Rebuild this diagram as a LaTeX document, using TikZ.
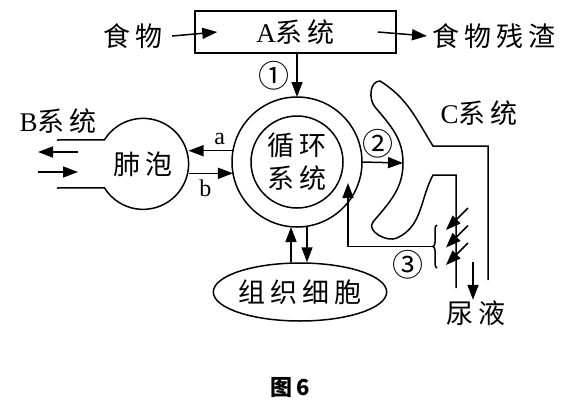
\documentclass[tikz,border=0pt]{standalone}
\usepackage{fontspec}
\setmainfont{Liberation Serif}
\newfontfamily\zh[LetterSpace=18]{Noto Sans CJK SC}
\usetikzlibrary{shapes.geometric, arrows.meta, decorations.pathreplacing}
\tikzset{
    arr/.style={-{Triangle[length=15pt,width=11pt]}},
    lab/.style={inner sep=0pt, font=\fontsize{27}{33}\selectfont},
    num/.style={inner sep=0pt, font=\fontsize{31}{34}\selectfont\zh},
    small/.style={inner sep=0pt, font=\fontsize{24}{28}\selectfont},
    sysbox/.style={draw, rectangle, minimum width=201pt, minimum height=42pt, inner sep=0pt, font=\fontsize{27}{33}\selectfont},
    ring/.style={draw, circle, outer sep=0pt, inner sep=0pt}
}

\begin{document}
\begin{tikzpicture}[x=1pt, y=1pt, line width=1.5pt]
    \useasboundingbox (0,0) rectangle (571,-405);
    \node[sysbox] (sysA) at (295.5,-32) {A\zh 系统};
    \node[lab] (food) at (133,-36) {\zh 食物};
    \node[lab] (waste) at (494,-36) {\zh 食物残渣};
    \draw[arr] ([xshift=9pt]food.east) -- ([xshift=23pt]sysA.west);
    \draw[arr] ([xshift=-19pt]sysA.east) -- ([xshift=-5pt]waste.west);

    \node[ring, minimum size=130pt] (ring) at (297,-162) {};
    \node[ring, minimum size=92pt, lab, align=center] (core) at (297,-162) {\zh 循环\\\zh 系统};
    \draw[arr] (sysA.south -| ring.north) -- node[num, pos=0.5, left=7pt] (n1) {①} (ring.north);

    \node[circle, minimum size=91pt, inner sep=0pt, outer sep=0pt, lab] (lung) at (143,-164) {\zh 肺泡};
    \draw (57,-140) -- (lung.148.2) arc[start angle=148.2, end angle=-148.2, radius=45.5] -- (57,-188);
    \node[lab] (bsys) at (58,-121) {B\zh 系统};
    \coordinate (outL) at (38,-152);
    \coordinate (inL) at (38,-172);
    \draw[arr] ([xshift=40pt]outL) -- (outL);
    \draw[arr] (inL) -- ([xshift=40pt]inL);
    \draw[arr] (ring.170) -- node[small, pos=0.3, above=5pt] (la) {a} (ring.170 -| lung.east);
    \draw[arr] (ring.190 -| lung.east) -- node[small, pos=0.38, below=6pt] (lb) {b} (ring.190);

    \node[ellipse, draw, minimum width=155pt, minimum height=58pt, inner sep=0pt, lab] (cells) at (300,-292) {\zh 组织细胞};
    \draw[arr] ([xshift=-6pt]ring.south |- cells.north) -- ([xshift=-6pt]ring.south);
    \draw[arr] ([xshift=10pt]ring.south) -- ([xshift=10pt]ring.south |- cells.north);

    \draw (456,-288) -- (456,-175) -- (433,-175)
        to[out=-118, in=25] (397,-238)
        to[out=205, in=-130] (373,-222)
        to[out=50, in=-90] (403,-163)
        to[out=90, in=-50] (375,-107)
        to[out=130, in=180] (380,-81)
        to[out=-32, in=122] (433,-146) -- (488,-146) -- (488,-280);
    \coordinate (hil) at (403,-163);
    \draw[arr] (ring.east) -- node[num, pos=0.4, above=3pt] (n2) {②} (hil);
    \node[lab] (csys) at (479,-113) {C\zh 系统};

    \draw[decorate, decoration={brace, amplitude=4pt}] (437,-268) -- (437,-225);
    \coordinate (btip) at (433,-246.5);
    \coordinate (ret) at (348,-183);
    \draw[arr] (btip) -| (ret);
    \foreach \k in {0,1,2}
        \draw[arr] (468,{-208-17.5*\k}) -- ++(-22,-22);
    \node[num] (n3) at (408,-265) {③};

    \node[lab] (urine) at (476,-313) {\zh 尿液};
    \draw[arr] (473,-262) -- (urine.north -| 473,0);

    \node[inner sep=0pt, font=\fontsize{22}{26}\selectfont\zh\bfseries] (cap) at (290,-388) {图6};
\end{tikzpicture}
\end{document}
